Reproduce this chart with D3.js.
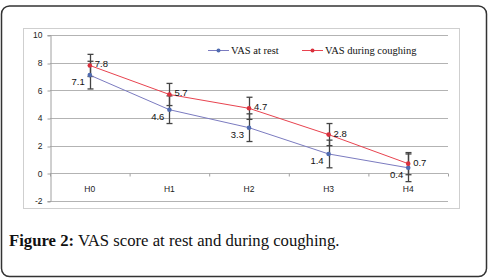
<!DOCTYPE html>
<html>
<head>
<meta charset="utf-8">
<script src="https://cdn.jsdelivr.net/npm/d3@7"></script>
<style>
  body { margin: 0; background: #fff; }
  svg { display: block; }
</style>
</head>
<body>
<div id="chart-area"></div>
<script>
const categories = ["H0", "H1", "H2", "H3", "H4"];
const restValues = [7.1, 4.6, 3.3, 1.4, 0.4];
const coughValues = [7.8, 5.7, 4.7, 2.8, 0.7];
const restErr = [1.0, 1.0, 1.0, 1.0, 1.0];
const coughErr = [0.8, 0.8, 0.8, 0.8, 0.8];
const yTicks = [-2, 0, 2, 4, 6, 8, 10];

const svg = d3.select("#chart-area")
    .append("svg")
    .attr("width", 490)
    .attr("height", 279);

// outer frame
svg.append("rect")
    .attr("x", 1.5).attr("y", 6)
    .attr("width", 485).attr("height", 270.5)
    .attr("rx", 8)
    .attr("fill", "none")
    .attr("stroke", "#333")
    .attr("stroke-width", 1.5);

// chart box
svg.append("rect")
    .attr("x", 23.5).attr("y", 28.5)
    .attr("width", 436).attr("height", 180)
    .attr("fill", "#fff")
    .attr("stroke", "#cfcfcf")
    .attr("stroke-width", 1);

const x = d3.scaleBand()
    .domain(categories)
    .range([50, 448])
    .padding(0);

const y = d3.scaleLinear()
    .domain([-2, 10])
    .range([201, 35]);

const cx = d => x(d) + x.bandwidth() / 2;

// gridlines
svg.append("g")
    .selectAll("line")
    .data(yTicks)
    .enter()
    .append("line")
    .attr("x1", 50).attr("x2", 448)
    .attr("y1", d => Math.round(y(d)) + 0.5)
    .attr("y2", d => Math.round(y(d)) + 0.5)
    .attr("stroke", "#b3b3b3")
    .attr("stroke-width", 1);

// y axis
const yAxis = d3.axisLeft(y)
    .tickValues(yTicks)
    .tickFormat(d => String(d))
    .tickSize(3)
    .tickPadding(5);

svg.append("g")
    .attr("transform", "translate(50.5, 0)")
    .call(yAxis)
    .call(g => g.select(".domain").attr("stroke", "#a0a0a0"))
    .call(g => g.selectAll(".tick line").attr("stroke", "#a0a0a0")
        .attr("transform", (d) => `translate(0, ${Math.round(y(d)) + 0.5 - y(d)})`))
    .call(g => g.selectAll("text")
        .attr("font-family", "Liberation Sans, Arial, sans-serif")
        .attr("font-size", "8.5px")
        .attr("fill", "#222"));

// x axis at zero
const zeroY = Math.round(y(0)) + 0.5;
svg.append("g")
    .selectAll("line")
    .data(d3.range(categories.length + 1))
    .enter()
    .append("line")
    .attr("x1", i => 50 + i * x.bandwidth() + 0.5)
    .attr("x2", i => 50 + i * x.bandwidth() + 0.5)
    .attr("y1", zeroY)
    .attr("y2", zeroY + 3)
    .attr("stroke", "#a0a0a0");

svg.append("g")
    .selectAll("text")
    .data(categories)
    .enter()
    .append("text")
    .attr("x", d => cx(d))
    .attr("y", 192)
    .attr("text-anchor", "middle")
    .attr("font-family", "Liberation Sans, Arial, sans-serif")
    .attr("font-size", "8.5px")
    .attr("fill", "#222")
    .text(d => d);

const series = [
    { name: "VAS at rest", values: restValues, err: restErr, line: "#7b7bc0", dot: "#4f6bb0", label: "left" },
    { name: "VAS during coughing", values: coughValues, err: coughErr, line: "#e8434f", dot: "#d9303c", label: "right" }
];

// error bars
series.forEach(s => {
    const g = svg.append("g");
    categories.forEach((c, i) => {
        const xc = Math.round(cx(c)) + 0.5;
        const top = y(s.values[i] + s.err[i]);
        const bot = y(s.values[i] - s.err[i]);
        g.append("line").attr("x1", xc).attr("x2", xc).attr("y1", top).attr("y2", bot)
            .attr("stroke", "#444").attr("stroke-width", 1.3);
        [top, bot].forEach(v => {
            g.append("line").attr("x1", xc - 3).attr("x2", xc + 3).attr("y1", v).attr("y2", v)
                .attr("stroke", "#444").attr("stroke-width", 1.3);
        });
    });
});

// lines and markers
series.forEach(s => {
    const line = d3.line()
        .x((d, i) => cx(categories[i]))
        .y(d => y(d));
    svg.append("path")
        .datum(s.values)
        .attr("d", line)
        .attr("fill", "none")
        .attr("stroke", s.line)
        .attr("stroke-width", 1);
    svg.append("g")
        .selectAll("circle")
        .data(s.values)
        .enter()
        .append("circle")
        .attr("cx", (d, i) => cx(categories[i]))
        .attr("cy", d => y(d))
        .attr("r", 2.3)
        .attr("fill", s.dot);
    svg.append("g")
        .selectAll("text")
        .data(s.values)
        .enter()
        .append("text")
        .attr("x", (d, i) => cx(categories[i]) + (s.label === "left" ? -5 : 5))
        .attr("y", d => y(d) + (s.label === "left" ? 10 : 2))
        .attr("text-anchor", s.label === "left" ? "end" : "start")
        .attr("font-family", "Liberation Sans, Arial, sans-serif")
        .attr("font-size", "9.5px")
        .attr("fill", "#111")
        .text(d => d3.format(".1f")(d));
});

// legend
const legendX = [208, 302];
series.forEach((s, i) => {
    const lg = svg.append("g").attr("transform", `translate(${legendX[i]}, 50)`);
    lg.append("line").attr("x1", 0).attr("x2", 21).attr("y1", 0.5).attr("y2", 0.5)
        .attr("stroke", s.line).attr("stroke-width", 1);
    lg.append("circle").attr("cx", 10.5).attr("cy", 0.5).attr("r", 2).attr("fill", s.dot);
    lg.append("text")
        .attr("x", 23).attr("y", 4)
        .attr("font-family", "Liberation Serif, Times New Roman, serif")
        .attr("font-size", "10.5px")
        .attr("fill", "#111")
        .text(s.name);
});

// caption
const cap = svg.append("text")
    .attr("x", 9)
    .attr("y", 246)
    .attr("font-family", "Liberation Serif, Times New Roman, serif")
    .attr("font-size", "16.7px")
    .attr("fill", "#111");
cap.append("tspan").attr("font-weight", "bold").text("Figure 2:");
cap.append("tspan").text(" VAS score at rest and during coughing.");
</script>
</body>
</html>
